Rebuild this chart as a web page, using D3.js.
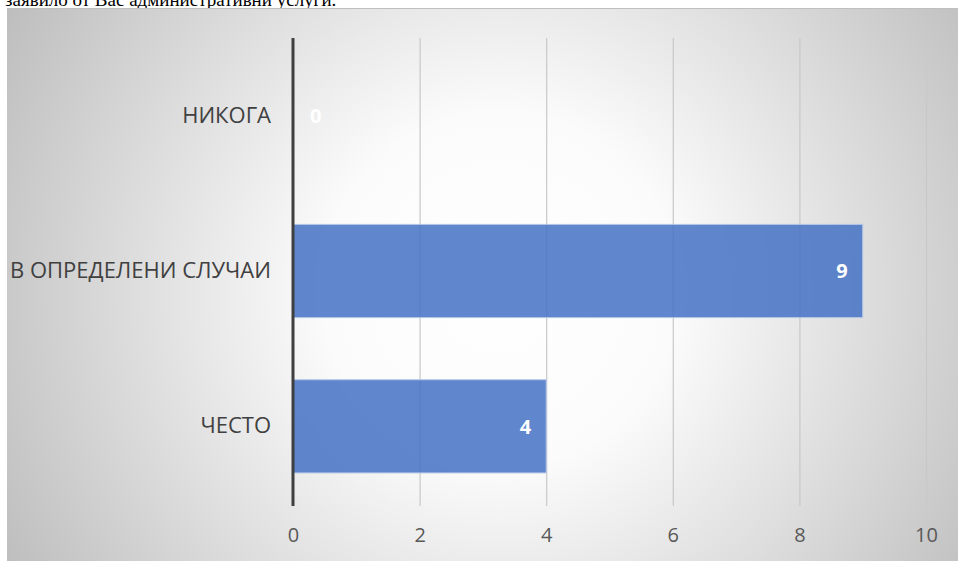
<!DOCTYPE html>
<html><head><meta charset="utf-8">
<script src="https://cdn.jsdelivr.net/npm/d3@7"></script>
<style>body{margin:0;background:#fff;overflow:hidden}</style>
</head><body>
<svg id="c" width="958" height="561"></svg>
<script>
const categories = ["НИКОГА", "В ОПРЕДЕЛЕНИ СЛУЧАИ", "ЧЕСТО"];
const values = [0, 9, 4];
const tickValues = [0, 2, 4, 6, 8, 10];
const headerText = "заявило от Вас административни услуги.";

const svg = d3.select("#c");
const W = 958, H = 561;
const defs = svg.append("defs");
const grad = defs.append("radialGradient").attr("id","bg")
  .attr("gradientUnits","userSpaceOnUse")
  .attr("cx",500).attr("cy",290).attr("r",590);
grad.append("stop").attr("offset","0").attr("stop-color","#ffffff");
grad.append("stop").attr("offset","0.3").attr("stop-color","#fbfbfb");
grad.append("stop").attr("offset","1").attr("stop-color","#bababa");

svg.append("text").attr("x",5).attr("y",6)
  .attr("font-family","Liberation Serif").attr("font-size",19).attr("fill","#000")
  .text(headerText);

svg.append("rect").attr("x",7).attr("y",8).attr("width",W-7).attr("height",H-8)
  .attr("fill","url(#bg)");
svg.append("line").attr("x1",7).attr("x2",W).attr("y1",8.5).attr("y2",8.5)
  .attr("stroke","#bfbfbf");

const m = {left:293, right:926, top:38, bottom:504};
const x = d3.scaleLinear().domain([0,10]).range([m.left, m.right]);
const y = d3.scaleBand().domain(categories).range([m.top, m.bottom]).paddingInner(0.4).paddingOuter(0.2);

// gridlines
svg.append("g").selectAll("line").data(tickValues.slice(1)).join("line")
  .attr("x1",d=>x(d)+0.5).attr("x2",d=>x(d)+0.5)
  .attr("y1",m.top).attr("y2",m.bottom+2)
  .attr("stroke","#c8c8c8").attr("stroke-width",1.2);

// bars
svg.append("g").selectAll("rect").data(values).join("rect")
  .attr("x",x(0)).attr("y",(d,i)=>y(categories[i]))
  .attr("width",d=>x(d)-x(0)).attr("height",y.bandwidth())
  .attr("fill","#4472c4").attr("fill-opacity",0.85)
  .attr("stroke","#b4c7e7").attr("stroke-width",1);

// axis line
svg.append("line").attr("x1",x(0)).attr("x2",x(0)).attr("y1",m.top).attr("y2",m.bottom+2)
  .attr("stroke","#3f3f3f").attr("stroke-width",3);

// x tick labels
const xAxis = d3.axisBottom(x).tickValues(tickValues).tickSize(0).tickPadding(24);
const gx = svg.append("g").attr("transform",`translate(0,${m.bottom})`).call(xAxis);
gx.select(".domain").remove();
gx.selectAll("text").attr("font-family","Open Sans").attr("font-size",20).attr("fill","#595959");

// category labels
const yAxis = d3.axisLeft(y).tickSize(0).tickPadding(22);
const gy = svg.append("g").attr("transform",`translate(${m.left},0)`).call(yAxis);
gy.select(".domain").remove();
gy.selectAll("text").attr("font-family","Open Sans").attr("font-size",22).attr("fill","#404040");

// value labels
svg.append("g").selectAll("text").data(values).join("text")
  .attr("x",d=> d===0 ? x(0)+17 : x(d)-15)
  .attr("y",(d,i)=>y(categories[i])+y.bandwidth()/2)
  .attr("dy","0.36em")
  .attr("text-anchor",d=> d===0 ? "start":"end")
  .attr("font-family","Open Sans").attr("font-weight","bold").attr("font-size",20)
  .attr("fill","#fff").text(d=>d);
</script>
</body></html>
